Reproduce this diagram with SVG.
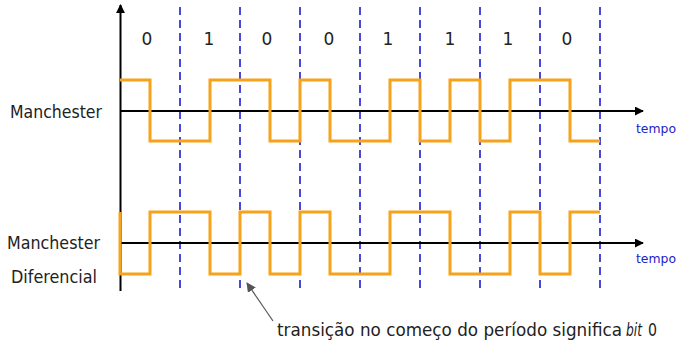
<svg xmlns="http://www.w3.org/2000/svg" width="679" height="341" viewBox="0 0 679 341">
<style>
.lbl{font-family:"DejaVu Sans","Liberation Sans",sans-serif;font-size:17px;fill:#222}
.bit{font-family:"DejaVu Sans","Liberation Sans",sans-serif;font-size:17px;fill:#222;text-anchor:middle}
.tempo{font-family:"DejaVu Sans","Liberation Sans",sans-serif;font-size:13px;fill:#2222cc}
.dash{stroke:#2a2ad0;stroke-width:1.7;stroke-dasharray:8 5;fill:none}
.axis{stroke:#000;stroke-width:2;fill:none}
.wave{stroke:#f7a21b;stroke-width:3;fill:none;stroke-linejoin:miter}
</style>
<defs>
<marker id="ah" viewBox="0 0 10 10" refX="9" refY="5" markerWidth="4.5" markerHeight="4.5" orient="auto" markerUnits="strokeWidth">
<path d="M0,0 L10,5 L0,10 z" fill="#000"/>
</marker>
<marker id="ag" viewBox="0 0 10 10" refX="9" refY="5" markerWidth="8" markerHeight="8" orient="auto" markerUnits="strokeWidth">
<path d="M0,0 L10,5 L0,10 z" fill="#555"/>
</marker>
</defs>
<rect width="679" height="341" fill="#fff"/>
<g id="grid">
<line class="dash" x1="180" y1="7" x2="180" y2="288"/>
<line class="dash" x1="240" y1="7" x2="240" y2="288"/>
<line class="dash" x1="300" y1="7" x2="300" y2="288"/>
<line class="dash" x1="360" y1="7" x2="360" y2="288"/>
<line class="dash" x1="420" y1="7" x2="420" y2="288"/>
<line class="dash" x1="480" y1="7" x2="480" y2="288"/>
<line class="dash" x1="540" y1="7" x2="540" y2="288"/>
<line class="dash" x1="600" y1="7" x2="600" y2="288"/>
</g>
<g id="bits">
<text class="bit" x="147" y="45">0</text>
<text class="bit" x="209" y="45">1</text>
<text class="bit" x="267" y="45">0</text>
<text class="bit" x="329" y="45">0</text>
<text class="bit" x="388" y="45">1</text>
<text class="bit" x="450" y="45">1</text>
<text class="bit" x="508" y="45">1</text>
<text class="bit" x="567" y="45">0</text>
</g>
<g id="connectors">
<line class="axis" x1="120.5" y1="291" x2="120.5" y2="5" marker-end="url(#ah)"/>
<line class="axis" x1="120" y1="111" x2="643" y2="111" marker-end="url(#ah)"/>
<line class="axis" x1="120" y1="243" x2="643" y2="243" marker-end="url(#ah)"/>
<line x1="273" y1="321" x2="247" y2="283" stroke="#555" stroke-width="1.2" marker-end="url(#ag)"/>
</g>
<g id="manchester">
<path class="wave" d="M120,80 H150 V141 H210 V80 H270 V141 H300 V80 H330 V141 H390 V80 H420 V141 H450 V80 H480 V141 H510 V80 H570 V141 H600"/>
<text class="lbl" x="10" y="118" textLength="92" lengthAdjust="spacingAndGlyphs">Manchester</text>
<text class="tempo" x="636" y="133" textLength="40" lengthAdjust="spacingAndGlyphs">tempo</text>
</g>
<g id="diferencial">
<path class="wave" d="M120,212 V274 H150 V212 H210 V274 H240 V212 H270 V274 H300 V212 H330 V274 H390 V212 H450 V274 H510 V212 H540 V274 H570 V212 H600"/>
<text class="lbl" x="7" y="249" textLength="93" lengthAdjust="spacingAndGlyphs">Manchester</text>
<text class="lbl" x="11" y="283" textLength="86" lengthAdjust="spacingAndGlyphs">Diferencial</text>
<text class="tempo" x="636" y="263" textLength="40" lengthAdjust="spacingAndGlyphs">tempo</text>
</g>
<g id="note">
<text class="lbl" x="277" y="336" textLength="345" lengthAdjust="spacingAndGlyphs">transição no começo do período significa</text>
<text class="lbl" x="626" y="336" font-style="italic" textLength="16" lengthAdjust="spacingAndGlyphs">bit</text>
<text class="lbl" x="648" y="336" textLength="9" lengthAdjust="spacingAndGlyphs">0</text>
</g>
</svg>
